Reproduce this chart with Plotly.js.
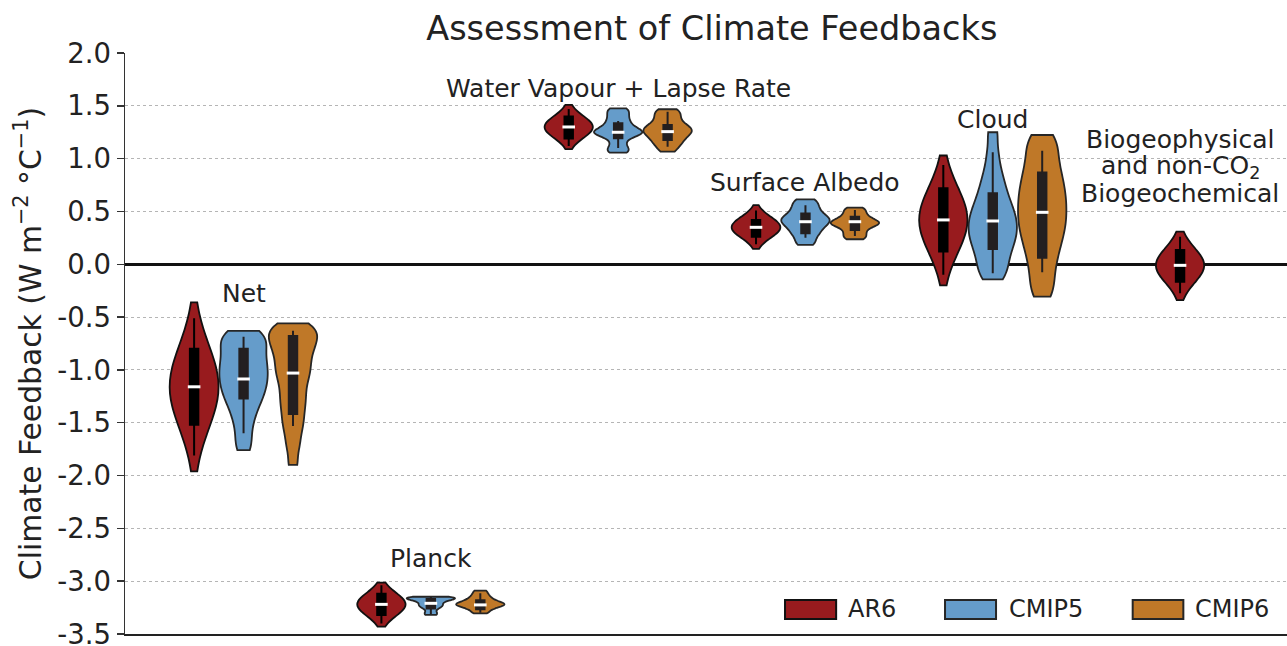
<!DOCTYPE html>
<html>
<head>
<meta charset="utf-8">
<script src="https://cdn.plot.ly/plotly-3.0.1.min.js"></script>
<style>html,body{margin:0;padding:0;background:#fff}#chart{width:1287px;height:646px}</style>
</head>
<body>
<div id="chart"></div>
<script>
// ---------------- DATA ----------------
const categoryLabels = ['Net', 'Planck', 'Water Vapour + Lapse Rate', 'Surface Albedo', 'Cloud',
  'Biogeophysical<br>and non-CO<sub>2</sub><br>Biogeochemical'];
const sources = ['AR6', 'CMIP5', 'CMIP6'];

// AR6 assessed feedbacks (central value, spread, drawn range, likely and very likely ranges)
const ar6Central = [-1.16, -3.22, 1.30, 0.35, 0.42, -0.01];
const ar6Sigma = [0.395, 0.11, 0.105, 0.10, 0.31, 0.165];
const ar6RangeLow = [-1.96, -3.43, 1.09, 0.145, -0.20, -0.34];
const ar6RangeHigh = [-0.36, -3.015, 1.51, 0.56, 1.03, 0.31];
const ar6LikelyLow = [-1.52, -3.32, 1.19, 0.26, 0.12, -0.165];
const ar6LikelyHigh = [-0.80, -3.12, 1.40, 0.42, 0.72, 0.135];
const ar6VeryLikelyLow = [-1.81, -3.40, 1.12, 0.19, -0.10, -0.275];
const ar6VeryLikelyHigh = [-0.51, -3.04, 1.47, 0.51, 0.94, 0.26];

// CMIP5 model feedbacks
const cmip5Net = [-0.63, -0.655, -0.685, -0.72, -0.755, -0.795, -0.835, -0.875, -0.915, -0.95, -0.985, -1.02, -1.055, -1.09, -1.125, -1.16, -1.20, -1.24, -1.28, -1.33, -1.39, -1.46, -1.55, -1.66, -1.76];
const cmip5Planck = [-3.148, -3.152, -3.156, -3.161, -3.167, -3.174, -3.182, -3.192, -3.205, -3.22, -3.232, -3.245, -3.265, -3.295, -3.32];
const cmip5WvLr = [1.477, 1.45, 1.42, 1.39, 1.36, 1.335, 1.31, 1.29, 1.275, 1.262, 1.25, 1.24, 1.23, 1.215, 1.19, 1.15, 1.11, 1.08, 1.057];
const cmip5Albedo = [0.615, 0.585, 0.555, 0.525, 0.50, 0.475, 0.455, 0.44, 0.425, 0.41, 0.395, 0.38, 0.36, 0.34, 0.315, 0.29, 0.26, 0.22, 0.183];
const cmip5Cloud = [1.25, 1.05, 0.90, 0.80, 0.72, 0.65, 0.59, 0.54, 0.49, 0.45, 0.41, 0.37, 0.33, 0.29, 0.25, 0.21, 0.16, 0.11, 0.05, -0.02, -0.08, -0.142];
const cmip5Bandwidth = [0.09, 0.015, 0.03, 0.035, 0.10];
const cmip5Q1 = [-1.27, -3.26, 1.193, 0.293, 0.145];
const cmip5Median = [-1.086, -3.21, 1.25, 0.403, 0.41];
const cmip5Q3 = [-0.80, -3.17, 1.335, 0.482, 0.672];
const cmip5WhiskerLow = [-1.60, -3.31, 1.10, 0.252, -0.085];
const cmip5WhiskerHigh = [-0.686, -3.15, 1.357, 0.56, 1.06];

// CMIP6 model feedbacks
const cmip6Net = [-0.56, -0.585, -0.61, -0.635, -0.66, -0.69, -0.72, -0.75, -0.78, -0.81, -0.85, -0.89, -0.93, -0.97, -1.01, -1.05, -1.09, -1.145, -1.20, -1.255, -1.31, -1.365, -1.43, -1.495, -1.56, -1.65, -1.75, -1.90];
const cmip6Planck = [-3.09, -3.12, -3.145, -3.165, -3.18, -3.195, -3.205, -3.213, -3.22, -3.227, -3.235, -3.245, -3.26, -3.28, -3.305];
const cmip6WvLr = [1.468, 1.44, 1.41, 1.38, 1.35, 1.325, 1.305, 1.29, 1.275, 1.26, 1.245, 1.23, 1.21, 1.19, 1.165, 1.14, 1.11, 1.066];
const cmip6Albedo = [0.536, 0.51, 0.485, 0.46, 0.44, 0.425, 0.41, 0.40, 0.39, 0.38, 0.37, 0.355, 0.335, 0.31, 0.285, 0.26, 0.237];
const cmip6Cloud = [1.224, 1.17, 1.10, 1.03, 0.96, 0.90, 0.84, 0.79, 0.74, 0.69, 0.645, 0.60, 0.555, 0.51, 0.465, 0.42, 0.375, 0.33, 0.28, 0.23, 0.17, 0.11, 0.04, -0.04, -0.13, -0.22, -0.307];
const cmip6Bandwidth = [0.08, 0.02, 0.035, 0.025, 0.11];
const cmip6Q1 = [-1.418, -3.265, 1.177, 0.325, 0.063];
const cmip6Median = [-1.03, -3.225, 1.256, 0.403, 0.492];
const cmip6Q3 = [-0.68, -3.18, 1.319, 0.451, 0.868];
const cmip6WhiskerLow = [-1.53, -3.30, 1.114, 0.268, -0.076];
const cmip6WhiskerHigh = [-0.63, -3.115, 1.445, 0.514, 1.076];

const yTickValues = [2.0, 1.5, 1.0, 0.5, 0.0, -0.5, -1.0, -1.5, -2.0, -2.5, -3.0, -3.5];
const yTickLabels = ['2.0', '1.5', '1.0', '0.5', '0.0', '-0.5', '-1.0', '-1.5', '-2.0', '-2.5', '-3.0', '-3.5'];

// ---------------- STYLE / LAYOUT ----------------
const FONT = 'DejaVu Sans, Liberation Sans, sans-serif';
const TEXT = '#222222';
const fills = {AR6: '#981b1e', CMIP5: '#659cca', CMIP6: '#bf7828'};
const edges = {AR6: '#111111', CMIP5: '#262626', CMIP6: '#262626'};
const boxFill = {AR6: '#000000', CMIP5: '#231f20', CMIP6: '#231f20'};
const OFFSET = 0.264;
const VIOLIN_W = 0.258;
const BOX_W = 0.045;
function position(cat, srcIdx) {
  if (cat === 5) return 5;  // only AR6 for the biogeophysical category, centred
  return cat + (srcIdx - 1) * OFFSET;
}

const traces = [];
const boxTraces = [];
const medX = [], medY = [];

// AR6 violins
ar6Central.forEach((c, i) => {
  const x = position(i, 0);
  traces.push({
    type: 'violin', x0: x, y: [c], name: 'AR6',
    bandwidth: ar6Sigma[i], spanmode: 'manual', span: [ar6RangeLow[i], ar6RangeHigh[i]],
    width: VIOLIN_W, scalemode: 'width', scalegroup: 'ar6_' + i,
    fillcolor: fills.AR6, opacity: 1, line: {color: edges.AR6, width: 1.8},
    points: false, box: {visible: false}, meanline: {visible: false},
    showlegend: false, hoverinfo: 'skip'
  });
});
boxTraces.push({
  type: 'box', name: 'AR6',
  x: ar6Central.map((c, i) => position(i, 0)),
  q1: ar6LikelyLow, median: ar6Central, q3: ar6LikelyHigh,
  lowerfence: ar6VeryLikelyLow, upperfence: ar6VeryLikelyHigh,
  width: BOX_W, whiskerwidth: 0, boxpoints: false,
  fillcolor: boxFill.AR6, line: {color: boxFill.AR6, width: 2},
  showlegend: false, hoverinfo: 'skip'
});
ar6Central.forEach((c, i) => { medX.push(position(i, 0)); medY.push(c); });

// CMIP violins
const cmip = {
  CMIP5: {samples: [cmip5Net, cmip5Planck, cmip5WvLr, cmip5Albedo, cmip5Cloud], bw: cmip5Bandwidth,
          q1: cmip5Q1, med: cmip5Median, q3: cmip5Q3, lo: cmip5WhiskerLow, hi: cmip5WhiskerHigh, idx: 1},
  CMIP6: {samples: [cmip6Net, cmip6Planck, cmip6WvLr, cmip6Albedo, cmip6Cloud], bw: cmip6Bandwidth,
          q1: cmip6Q1, med: cmip6Median, q3: cmip6Q3, lo: cmip6WhiskerLow, hi: cmip6WhiskerHigh, idx: 2}
};
Object.keys(cmip).forEach(src => {
  const d = cmip[src];
  d.samples.forEach((s, i) => {
    traces.push({
      type: 'violin', x0: position(i, d.idx), y: s, name: src,
      bandwidth: d.bw[i], spanmode: 'hard',
      width: VIOLIN_W, scalemode: 'width', scalegroup: src + '_' + i,
      fillcolor: fills[src], opacity: 1, line: {color: edges[src], width: 1.8},
      points: false, box: {visible: false}, meanline: {visible: false},
      showlegend: false, hoverinfo: 'skip'
    });
    medX.push(position(i, d.idx)); medY.push(d.med[i]);
  });
  boxTraces.push({
    type: 'box', name: src,
    x: d.samples.map((s, i) => position(i, d.idx)),
    q1: d.q1, median: d.med, q3: d.q3, lowerfence: d.lo, upperfence: d.hi,
    width: BOX_W, whiskerwidth: 0, boxpoints: false,
    fillcolor: boxFill[src], line: {color: boxFill[src], width: 2},
    showlegend: false, hoverinfo: 'skip'
  });
});

const medianTrace = {
  type: 'scatter', mode: 'markers', x: medX, y: medY,
  marker: {symbol: 'line-ew', size: 9, color: '#ffffff', line: {color: '#ffffff', width: 3}},
  showlegend: false, hoverinfo: 'skip'
};

// category labels
const labelY = [-0.28, -2.785, 1.66, 0.77, 1.37, null];
const bioLineY = [1.185, 0.925, 0.668];
const annotations = [];
categoryLabels.forEach((lab, i) => {
  if (i < 5) {
    annotations.push({x: i, y: labelY[i], xref: 'x', yref: 'y', text: lab, showarrow: false,
      xanchor: 'center', yanchor: 'middle', font: {family: FONT, size: 25, color: TEXT}});
  } else {
    lab.split('<br>').forEach((line, k) => {
      annotations.push({x: i, y: bioLineY[k], xref: 'x', yref: 'y', text: line, showarrow: false,
        xanchor: 'center', yanchor: 'middle', font: {family: FONT, size: 25, color: TEXT}});
    });
  }
});

// legend (patches + labels)
const shapes = [];
const legendX = [[0.568, 0.612, 0.6205], [0.7057, 0.7496, 0.7588], [0.8672, 0.9108, 0.9194]];
sources.forEach((src, k) => {
  const lx = legendX[k];
  shapes.push({type: 'rect', xref: 'paper', yref: 'paper', x0: lx[0], x1: lx[1], y0: 0.026, y1: 0.0585,
    fillcolor: fills[src], line: {color: edges[src], width: 2}});
  annotations.push({x: lx[2], y: 0.0422, xref: 'paper', yref: 'paper', text: src, showarrow: false,
    xanchor: 'left', yanchor: 'middle', font: {family: FONT, size: 24, color: TEXT}});
});

const layout = {
  width: 1287, height: 646,
  margin: {l: 125, r: 0, t: 53, b: 12, pad: 0},
  paper_bgcolor: '#ffffff', plot_bgcolor: '#ffffff',
  font: {family: FONT, color: TEXT},
  title: {text: 'Assessment of Climate Feedbacks', font: {family: FONT, size: 33.5, color: TEXT},
    x: 0.505, xref: 'paper', xanchor: 'center', y: 0.956, yref: 'container', yanchor: 'middle'},
  showlegend: false,
  violinmode: 'overlay', boxmode: 'overlay',
  xaxis: {type: 'linear', range: [-0.633, 5.571], showgrid: false, zeroline: false,
    showticklabels: false, ticks: '', showline: true, linecolor: '#222222', linewidth: 2, fixedrange: true},
  yaxis: {range: [-3.5005, 2.0005], tickmode: 'array', tickvals: yTickValues, ticktext: yTickLabels,
    tickfont: {family: FONT, size: 27.5, color: TEXT}, ticks: 'outside', ticklen: 7, tickwidth: 1.5,
    tickcolor: '#333333', ticklabelstandoff: 0, ticklabeloverflow: 'allow',
    showline: true, linecolor: '#333333', linewidth: 1.5,
    showgrid: true, gridcolor: '#b5b5b5', gridwidth: 1, griddash: 'dot',
    zeroline: true, zerolinecolor: '#111111', zerolinewidth: 3,
    title: {text: 'Climate Feedback (W m<sup>−2</sup> °C<sup>−1</sup>)', standoff: 7,
      font: {family: FONT, size: 29.8, color: TEXT}},
    fixedrange: true},
  shapes: shapes,
  annotations: annotations
};

Plotly.newPlot('chart', traces.concat(boxTraces, [medianTrace]), layout, {displayModeBar: false, staticPlot: true});
</script>
</body>
</html>
